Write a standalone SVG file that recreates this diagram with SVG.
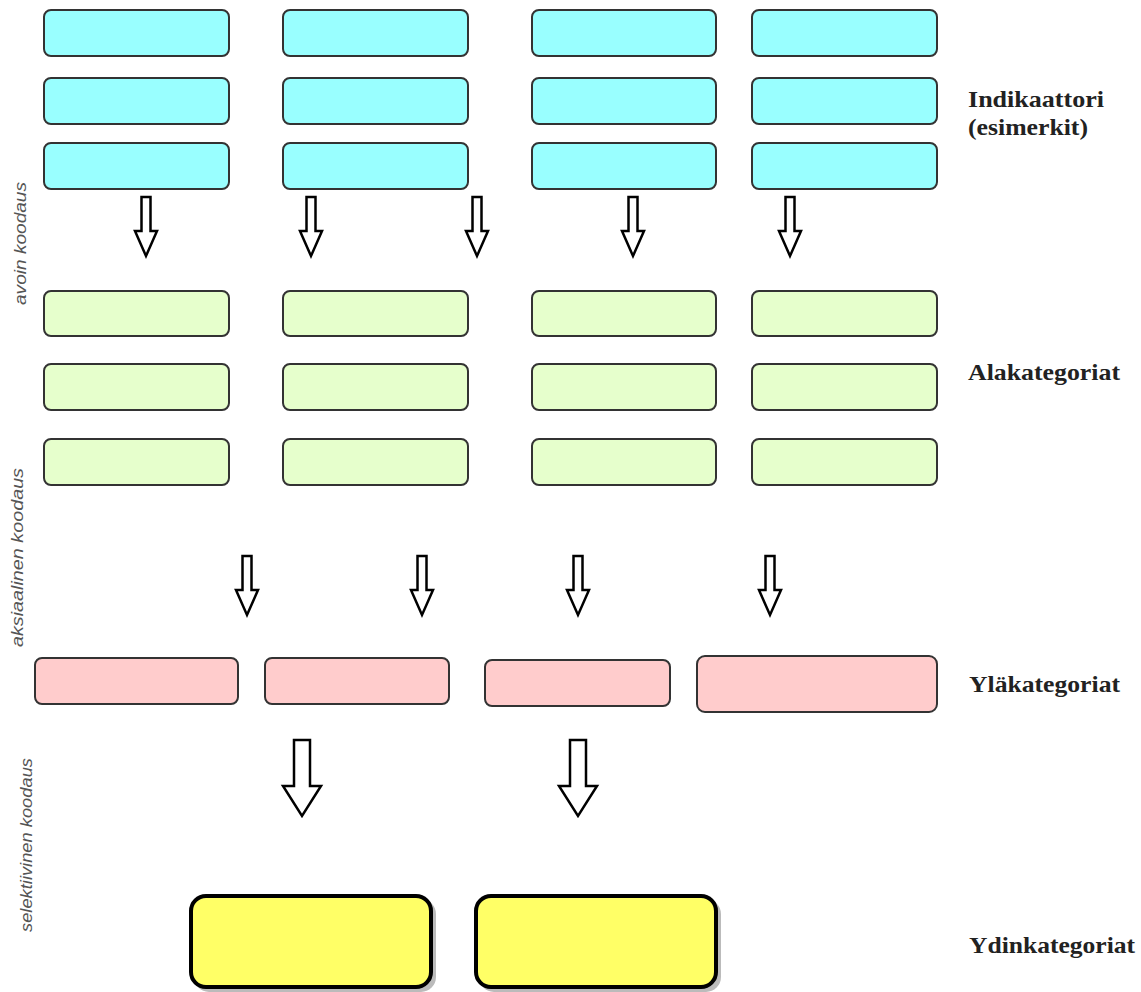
<svg xmlns="http://www.w3.org/2000/svg" width="1141" height="992" viewBox="0 0 1141 992">
  <style>
    .box { stroke: #333; stroke-width: 2; }
    .ind { fill: #99ffff; }
    .sub { fill: #e6ffcc; }
    .sup { fill: #ffcccc; }
    .core { fill: #ffff66; stroke: #000; stroke-width: 4; }
    .shadow { fill: #bbb; }
    .arrow { fill: #fff; stroke: #000; stroke-width: 2.5; stroke-linejoin: miter; }
    .level { font-family: "Liberation Serif", "Times New Roman", serif; font-weight: bold; font-size: 24px; fill: #222; }
    .phase { font-family: "Liberation Sans", Arial, sans-serif; font-style: italic; font-size: 17px; fill: #555; }
  </style>
  <defs>
    <path id="arr-s" d="M -4.5 0 H 4.5 V 34 H 11 L 0 59 L -11 34 H -4.5 Z"/>
    <path id="arr-l" d="M -8 0 H 8 V 46 H 19 L 0 76 L -19 46 H -8 Z"/>
  </defs>
  <rect width="1141" height="992" fill="#fff"/>

  <!-- indicators (examples) -->
  <g id="indicators">
    <g id="ind-1-1"><rect class="box ind" x="44" y="10" width="185" height="46" rx="7"/></g>
    <g id="ind-1-2"><rect class="box ind" x="283" y="10" width="185" height="46" rx="7"/></g>
    <g id="ind-1-3"><rect class="box ind" x="532" y="10" width="184" height="46" rx="7"/></g>
    <g id="ind-1-4"><rect class="box ind" x="752" y="10" width="185" height="46" rx="7"/></g>
    <g id="ind-2-1"><rect class="box ind" x="44" y="78" width="185" height="46" rx="7"/></g>
    <g id="ind-2-2"><rect class="box ind" x="283" y="78" width="185" height="46" rx="7"/></g>
    <g id="ind-2-3"><rect class="box ind" x="532" y="78" width="184" height="46" rx="7"/></g>
    <g id="ind-2-4"><rect class="box ind" x="752" y="78" width="185" height="46" rx="7"/></g>
    <g id="ind-3-1"><rect class="box ind" x="44" y="143" width="185" height="46" rx="7"/></g>
    <g id="ind-3-2"><rect class="box ind" x="283" y="143" width="185" height="46" rx="7"/></g>
    <g id="ind-3-3"><rect class="box ind" x="532" y="143" width="184" height="46" rx="7"/></g>
    <g id="ind-3-4"><rect class="box ind" x="752" y="143" width="185" height="46" rx="7"/></g>
  </g>

  <!-- subcategories -->
  <g id="subcategories">
    <g id="sub-1-1"><rect class="box sub" x="44" y="291" width="185" height="45" rx="7"/></g>
    <g id="sub-1-2"><rect class="box sub" x="283" y="291" width="185" height="45" rx="7"/></g>
    <g id="sub-1-3"><rect class="box sub" x="532" y="291" width="184" height="45" rx="7"/></g>
    <g id="sub-1-4"><rect class="box sub" x="752" y="291" width="185" height="45" rx="7"/></g>
    <g id="sub-2-1"><rect class="box sub" x="44" y="364" width="185" height="46" rx="7"/></g>
    <g id="sub-2-2"><rect class="box sub" x="283" y="364" width="185" height="46" rx="7"/></g>
    <g id="sub-2-3"><rect class="box sub" x="532" y="364" width="184" height="46" rx="7"/></g>
    <g id="sub-2-4"><rect class="box sub" x="752" y="364" width="185" height="46" rx="7"/></g>
    <g id="sub-3-1"><rect class="box sub" x="44" y="439" width="185" height="46" rx="7"/></g>
    <g id="sub-3-2"><rect class="box sub" x="283" y="439" width="185" height="46" rx="7"/></g>
    <g id="sub-3-3"><rect class="box sub" x="532" y="439" width="184" height="46" rx="7"/></g>
    <g id="sub-3-4"><rect class="box sub" x="752" y="439" width="185" height="46" rx="7"/></g>
  </g>

  <!-- upper categories -->
  <g id="upper-categories">
    <g id="sup-1"><rect class="box sup" x="35" y="658" width="203" height="46" rx="7"/></g>
    <g id="sup-2"><rect class="box sup" x="265" y="658" width="184" height="46" rx="7"/></g>
    <g id="sup-3"><rect class="box sup" x="485" y="660" width="185" height="46" rx="7"/></g>
    <g id="sup-4"><rect class="box sup" x="697" y="656" width="240" height="56" rx="8"/></g>
  </g>

  <!-- core categories -->
  <g id="core-categories">
    <g id="core-1">
      <rect class="shadow" x="194" y="899" width="242" height="93" rx="15"/>
      <rect class="core" x="191" y="896" width="240" height="91" rx="15"/>
    </g>
    <g id="core-2">
      <rect class="shadow" x="479" y="899" width="242" height="93" rx="15"/>
      <rect class="core" x="476" y="896" width="240" height="91" rx="15"/>
    </g>
  </g>

  <!-- connectors: hollow block arrows between levels -->
  <g id="connectors">
    <use href="#arr-s" class="arrow" x="146" y="197"/>
    <use href="#arr-s" class="arrow" x="311" y="197"/>
    <use href="#arr-s" class="arrow" x="477" y="197"/>
    <use href="#arr-s" class="arrow" x="633" y="197"/>
    <use href="#arr-s" class="arrow" x="790" y="197"/>

    <use href="#arr-s" class="arrow" x="247" y="556"/>
    <use href="#arr-s" class="arrow" x="422" y="556"/>
    <use href="#arr-s" class="arrow" x="578" y="556"/>
    <use href="#arr-s" class="arrow" x="770" y="556"/>

    <use href="#arr-l" class="arrow" x="302" y="740"/>
    <use href="#arr-l" class="arrow" x="578" y="740"/>
  </g>

  <!-- level names -->
  <g id="level-labels">
    <text class="level" x="968" y="107" textLength="136" lengthAdjust="spacingAndGlyphs">Indikaattori</text>
    <text class="level" x="968" y="135" textLength="120" lengthAdjust="spacingAndGlyphs">(esimerkit)</text>
    <text class="level" x="968" y="380" textLength="152" lengthAdjust="spacingAndGlyphs">Alakategoriat</text>
    <text class="level" x="969" y="692" textLength="151" lengthAdjust="spacingAndGlyphs">Yläkategoriat</text>
    <text class="level" x="969" y="953" textLength="166" lengthAdjust="spacingAndGlyphs">Ydinkategoriat</text>
  </g>

  <!-- coding phases, rotated along the left edge -->
  <g id="phase-labels">
    <text class="phase" transform="translate(26 305) rotate(-90)" textLength="123" lengthAdjust="spacingAndGlyphs">avoin koodaus</text>
    <text class="phase" transform="translate(23 647) rotate(-90)" textLength="179" lengthAdjust="spacingAndGlyphs">aksiaalinen koodaus</text>
    <text class="phase" transform="translate(32 932) rotate(-90)" textLength="174" lengthAdjust="spacingAndGlyphs">selektiivinen koodaus</text>
  </g>
</svg>
